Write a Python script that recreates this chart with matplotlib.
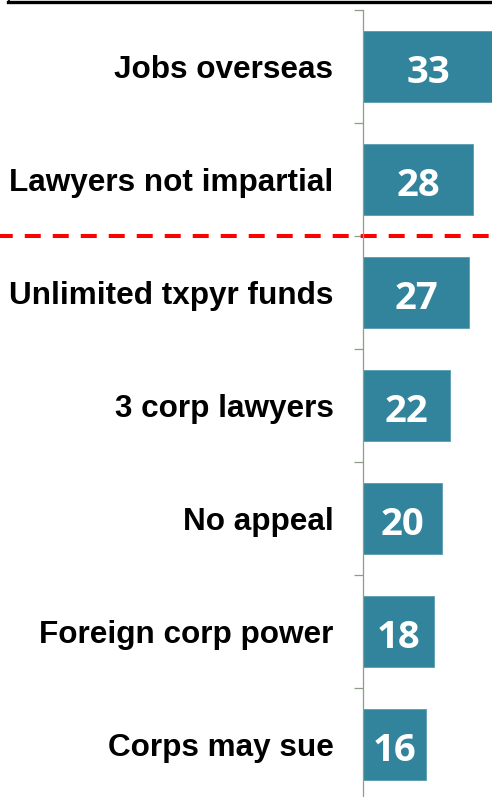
# -*- coding: utf-8 -*-
import matplotlib
matplotlib.use("Agg")
import matplotlib.pyplot as plt
from matplotlib.lines import Line2D
import numpy as np

# Dados do gráfico
categorias = ["Jobs overseas", "Lawyers not impartial", "Unlimited txpyr funds",
              "3 corp lawyers", "No appeal", "Foreign corp power", "Corps may sue"]
valores = [33, 28, 27, 22, 20, 18, 16]

cor_barra = "#31849B"
cor_eixo = "#8E9C88"

fig = plt.figure(figsize=(4.92, 7.97), dpi=100)
ax = fig.add_axes([363.3 / 492, -4 / 797, 1 - 363.3 / 492, 0.9925])

y = np.arange(len(categorias))
ax.barh(y, valores, height=0.625, color=cor_barra, edgecolor="#5A9DB0", linewidth=0.6)

# Rótulos de valor dentro das barras (linha de base um pouco abaixo do centro)
for i, v in enumerate(valores):
    ax.text(v / 2, i + 0.145, str(v), ha="center", va="baseline", color="white",
            fontsize=27.5, fontweight="bold", family="Open Sans")

ax.set_xlim(0, 32.75)
ax.set_ylim(len(categorias) - 0.5, -0.5)

ax.set_yticks(y)
ax.set_yticklabels(categorias, fontsize=22.7, fontweight="bold", family="Liberation Sans")
ax.tick_params(axis="y", which="major", length=0, pad=21.5)
ax.set_yticks(np.arange(-0.5, len(categorias)), minor=True)
ax.tick_params(axis="y", which="minor", length=6.5, width=0.9, color=cor_eixo, direction="out")
ax.set_xticks([])

for lado in ["top", "right", "bottom"]:
    ax.spines[lado].set_visible(False)
ax.spines["left"].set_color(cor_eixo)
ax.spines["left"].set_linewidth(0.9)

# Linha vermelha tracejada separando os dois primeiros itens
ax.plot([-363.3 / 128.7, 1.0], [1.5, 1.5], transform=ax.get_yaxis_transform(),
        color="#FF0000", linewidth=2.9, linestyle=(0.8, (3.97, 2.98)), clip_on=False)

# Borda superior preta
fig.add_artist(Line2D([8 / 492, 1.0], [1 - 1.5 / 797, 1 - 1.5 / 797],
                      transform=fig.transFigure, color="black", linewidth=2.4))
fig.add_artist(Line2D([8.5 / 492, 8.5 / 492], [1 - 3 / 797, 1.0],
                      transform=fig.transFigure, color="black", linewidth=1.2))

fig.savefig("out.png", dpi=100)
